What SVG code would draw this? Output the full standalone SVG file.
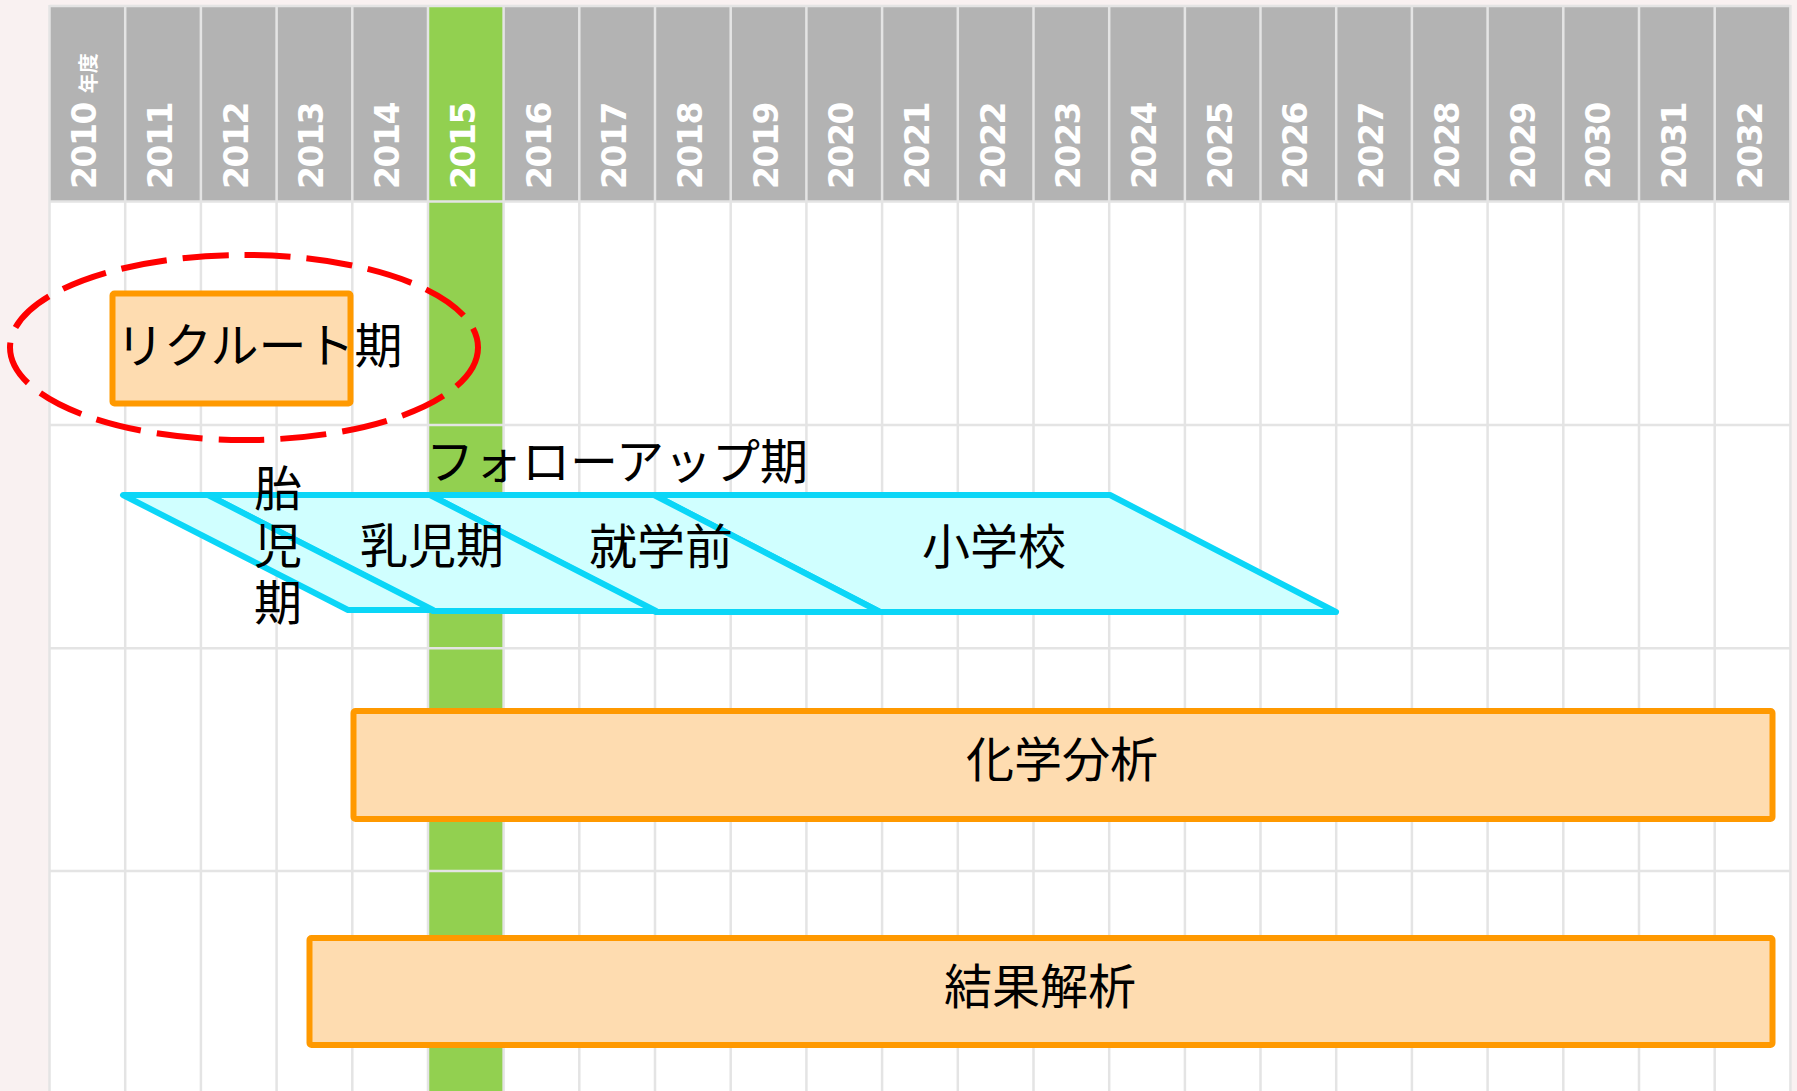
<svg xmlns="http://www.w3.org/2000/svg" width="1797" height="1091" viewBox="0 0 1797 1091">
<style>
.yr{font-family:"DejaVu Sans",sans-serif;font-weight:bold;font-size:33px;fill:#ffffff;letter-spacing:-1.5px}
.yr .s{font-size:20px;letter-spacing:0;font-family:"Noto Sans CJK JP","DejaVu Sans",sans-serif}
.lbl{font-family:"Noto Sans CJK JP","Noto Sans CJK SC",sans-serif;font-size:48px;fill:#000000}
.vert{writing-mode:vertical-rl;letter-spacing:9px}
.box{fill:#fedcb0;stroke:#ff9900;stroke-width:6}
.para{fill:#d0ffff;stroke:#0bd6f7;stroke-width:6;stroke-linejoin:round}
.grid{stroke:#e4e4e4;stroke-width:2.5;fill:none}
</style>
<rect x="0" y="0" width="1797" height="1091" fill="#f9f1f1"/>
<g id="grid">
<rect x="49.5" y="201.5" width="1740.9" height="890" fill="#ffffff"/>
<rect x="49.5" y="6" width="1740.9" height="195.5" fill="#b3b3b3"/>
<rect x="428" y="6" width="75.6" height="1085" fill="#92d050"/>
<path class="grid" d="M49.5 5V1091M125.2 5V1091M200.9 5V1091M276.6 5V1091M352.3 5V1091M428 5V1091M503.6 5V1091M579.3 5V1091M655 5V1091M730.7 5V1091M806.4 5V1091M882.1 5V1091M957.8 5V1091M1033.5 5V1091M1109.2 5V1091M1184.9 5V1091M1260.5 5V1091M1336.2 5V1091M1411.9 5V1091M1487.6 5V1091M1563.3 5V1091M1639 5V1091M1714.7 5V1091M1790.4 5V1091"/>
<path class="grid" d="M49.5 6H1790.4M49.5 201.5H1790.4M49.5 425H1790.4M49.5 648.3H1790.4M49.5 871H1790.4"/>
</g>
<g id="years">
<text class="yr" transform="translate(96.3,189) rotate(-90)">2010 <tspan class="s">年度</tspan></text>
<text class="yr" transform="translate(172,189) rotate(-90)">2011</text>
<text class="yr" transform="translate(247.7,189) rotate(-90)">2012</text>
<text class="yr" transform="translate(323.4,189) rotate(-90)">2013</text>
<text class="yr" transform="translate(399.1,189) rotate(-90)">2014</text>
<text class="yr" transform="translate(474.8,189) rotate(-90)">2015</text>
<text class="yr" transform="translate(550.5,189) rotate(-90)">2016</text>
<text class="yr" transform="translate(626.2,189) rotate(-90)">2017</text>
<text class="yr" transform="translate(701.9,189) rotate(-90)">2018</text>
<text class="yr" transform="translate(777.6,189) rotate(-90)">2019</text>
<text class="yr" transform="translate(853.3,189) rotate(-90)">2020</text>
<text class="yr" transform="translate(928.9,189) rotate(-90)">2021</text>
<text class="yr" transform="translate(1004.6,189) rotate(-90)">2022</text>
<text class="yr" transform="translate(1080.3,189) rotate(-90)">2023</text>
<text class="yr" transform="translate(1156,189) rotate(-90)">2024</text>
<text class="yr" transform="translate(1231.7,189) rotate(-90)">2025</text>
<text class="yr" transform="translate(1307.4,189) rotate(-90)">2026</text>
<text class="yr" transform="translate(1383.1,189) rotate(-90)">2027</text>
<text class="yr" transform="translate(1458.8,189) rotate(-90)">2028</text>
<text class="yr" transform="translate(1534.5,189) rotate(-90)">2029</text>
<text class="yr" transform="translate(1610.2,189) rotate(-90)">2030</text>
<text class="yr" transform="translate(1685.9,189) rotate(-90)">2031</text>
<text class="yr" transform="translate(1761.5,189) rotate(-90)">2032</text>
</g>
<g id="recruit">
<rect class="box" x="112.5" y="293.5" width="238" height="110" rx="2"/>
<text class="lbl" x="116" y="363">リクルート期</text>
</g>
<g id="recruit-highlight">
<ellipse cx="244" cy="347.5" rx="234" ry="92.5" fill="none" stroke="#ff0000" stroke-width="6" stroke-dasharray="46 16"/>
</g>
<g id="followup-label">
<text class="lbl" x="426" y="479">フォローアップ期</text>
</g>
<g id="elementary">
<polygon class="para" points="654,495 1110,495 1336,612 880,612"/>
<text class="lbl" x="994" y="564" text-anchor="middle">小学校</text>
</g>
<g id="preschool">
<polygon class="para" points="430,495 654,495 880,612 656,612"/>
<text class="lbl" x="661" y="564" text-anchor="middle">就学前</text>
</g>
<g id="infant">
<polygon class="para" points="208,495 430,495 656,611 433,611"/>
<text class="lbl" x="432" y="563" text-anchor="middle">乳児期</text>
</g>
<g id="fetal">
<polygon class="para" points="123,495 208,495 433,610 348,610"/>
<text class="lbl vert" x="278" y="464">胎児期</text>
</g>
<g id="chemical-analysis">
<rect class="box" x="353.5" y="711" width="1419" height="108" rx="2"/>
<text class="lbl" x="1062" y="777" text-anchor="middle">化学分析</text>
</g>
<g id="result-analysis">
<rect class="box" x="309.5" y="938" width="1463" height="107" rx="2"/>
<text class="lbl" x="1040" y="1004" text-anchor="middle">結果解析</text>
</g>
<g id="connectors"/>
</svg>
